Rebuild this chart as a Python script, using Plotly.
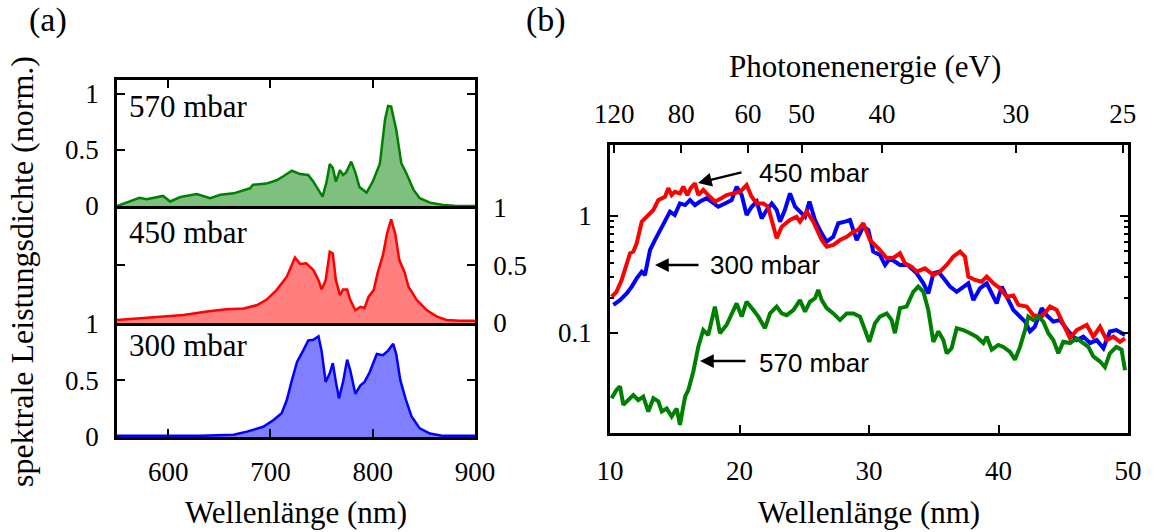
import plotly.graph_objects as go

# ---- (a) normalised spectral power density of the driving pulse ----
wl_570 = [550, 559, 572, 579, 595, 602, 612, 628, 641, 651, 664, 680, 683, 696, 706, 713, 721, 729, 737, 742,
          751, 755, 758, 761, 764, 768, 771, 774, 779, 783, 787, 794, 800, 807, 812, 815, 818, 823, 828, 833,
          840, 846, 856, 869, 880, 900]
psd_570 = [0, 0.03, 0.074, 0.06, 0.09, 0.04, 0.08, 0.107, 0.07, 0.10, 0.113, 0.158, 0.19, 0.20, 0.23, 0.268,
           0.315, 0.285, 0.277, 0.217, 0.083, 0.22, 0.375, 0.34, 0.217, 0.32, 0.277, 0.30, 0.396, 0.30, 0.17,
           0.12, 0.217, 0.378, 0.77, 0.893, 0.887, 0.68, 0.38, 0.29, 0.143, 0.07, 0.03, 0.01, 0.003, 0.0]

wl_450 = [550, 582, 615, 638, 657, 674, 687, 696, 706, 716, 721, 724, 729, 735, 742, 747, 750, 754, 758, 761,
          764, 768, 771, 775, 778, 783, 788, 792, 796, 801, 805, 810, 814, 818, 822, 826, 831, 835, 843, 853,
          863, 872, 885, 900]
psd_450 = [0.026, 0.05, 0.07, 0.10, 0.118, 0.125, 0.155, 0.20, 0.284, 0.40, 0.50, 0.566, 0.51, 0.515, 0.457,
           0.37, 0.29, 0.37, 0.615, 0.60, 0.37, 0.24, 0.29, 0.29, 0.20, 0.11, 0.14, 0.13, 0.227, 0.284, 0.44,
           0.586, 0.773, 0.894, 0.77, 0.543, 0.44, 0.313, 0.20, 0.11, 0.054, 0.026, 0.02, 0.02]

wl_300 = [550, 631, 664, 677, 693, 703, 711, 716, 721, 726, 732, 737, 742, 747, 750, 754, 758, 761, 764, 767,
          771, 775, 778, 783, 788, 792, 797, 804, 810, 815, 820, 823, 827, 832, 838, 846, 856, 869, 900]
psd_300 = [0.01, 0.01, 0.02, 0.047, 0.09, 0.15, 0.21, 0.325, 0.50, 0.66, 0.76, 0.85, 0.855, 0.886, 0.76, 0.485,
           0.56, 0.65, 0.485, 0.34, 0.485, 0.68, 0.59, 0.38, 0.455, 0.485, 0.57, 0.73, 0.72, 0.76, 0.82, 0.73,
           0.50, 0.34, 0.18, 0.076, 0.03, 0.01, 0.01]

# ---- (b) harmonic spectra on a log scale ----
lam_450 = [10.13, 10.5, 10.9, 11.3, 11.55, 11.8, 12.06, 12.45, 12.83, 13.35, 13.73, 14.25, 14.5, 14.76, 15.0,
           15.4, 15.66, 15.97, 16.23, 16.56, 16.82, 17.2, 17.59, 18.1, 18.6, 19.0, 19.5, 20.04, 20.55, 20.94,
           21.33, 21.84, 22.2, 22.5, 22.87, 23.26, 23.9, 24.4, 24.67, 25.19, 25.7, 26.35, 26.73, 27.24, 27.76,
           28.28, 28.8, 29.17, 29.56, 30.08, 30.85, 31.37, 31.9, 32.39, 32.78, 33.3, 33.68, 34.32, 34.97, 35.48,
           36.0, 36.5, 37.03, 37.41, 37.67, 38.19, 38.7, 39.09, 39.6, 40.12, 40.63, 41.15, 41.53, 42.18, 42.69,
           43.34, 43.98, 44.5, 45.0, 45.52, 46.04, 46.81, 47.32, 47.84, 48.35, 48.87, 49.38, 49.77]
sig_450 = [0.204, 0.225, 0.284, 0.394, 0.48, 0.496, 0.584, 0.894, 0.986, 1.125, 1.37, 1.46, 1.73, 1.51, 1.61,
           1.56, 1.78, 1.51, 1.73, 1.9, 1.51, 1.67, 1.51, 1.33, 1.42, 1.51, 1.56, 1.61, 1.84, 1.46,
           1.28, 1.28, 1.2, 0.924, 0.645, 0.81, 0.924, 0.986, 0.894, 1.09, 0.894, 0.623, 0.547, 0.565, 0.623,
           0.665, 0.735, 0.76, 0.866, 0.623, 0.512, 0.435, 0.44, 0.48, 0.394, 0.368, 0.334, 0.357, 0.313, 0.334,
           0.381, 0.449, 0.496, 0.449, 0.303, 0.284, 0.274, 0.303, 0.266, 0.241, 0.204, 0.209, 0.174, 0.168, 0.142,
           0.138, 0.168, 0.157, 0.121, 0.09, 0.106, 0.117, 0.093, 0.113, 0.087, 0.093, 0.084, 0.09]

lam_300 = [10.26, 10.77, 11.29, 11.68, 12.06, 12.45, 12.7, 13.09, 13.47, 13.86, 14.25, 14.63, 15.0, 15.4, 15.8,
           16.18, 16.56, 16.95, 17.47, 17.98, 18.36, 18.88, 19.4, 19.78, 20.17, 20.55, 20.94, 21.33, 21.71, 22.1,
           22.49, 22.87, 23.13, 23.5, 23.9, 24.29, 24.67, 25.06, 25.4, 25.83, 26.2, 26.73, 27.24, 27.63, 28.15,
           28.53, 29.05, 29.56, 29.95, 30.33, 30.85, 31.24, 31.62, 32.39, 33.0, 33.68, 34.2, 34.58, 34.97, 35.36,
           35.87, 36.26, 36.77, 37.28, 37.67, 38.06, 38.57, 39.09, 39.48, 39.86, 40.25, 40.63, 41.15, 41.66, 42.05,
           42.43, 42.8, 43.34, 43.72, 44.23, 44.75, 45.4, 46.04, 46.55, 47.07, 47.58, 48.1, 48.6, 49.1, 49.77]
sig_300 = [0.174, 0.191, 0.218, 0.249, 0.293, 0.334, 0.313, 0.512, 0.623, 0.76, 0.924, 1.09, 1.02, 1.28, 1.24,
           1.37, 1.24, 1.33, 1.42, 1.28, 1.2, 1.28, 1.37, 1.78, 1.51, 1.02, 1.2, 1.33, 0.955, 1.125,
           1.28, 1.125, 0.894, 1.125, 1.56, 1.2, 1.09, 0.986, 1.33, 0.924, 0.76, 0.603, 0.665, 0.866, 0.894,
           0.924, 0.623, 0.81, 0.76, 0.496, 0.464, 0.381, 0.435, 0.381, 0.381, 0.323, 0.266, 0.218, 0.323, 0.334,
           0.284, 0.249, 0.225, 0.249, 0.266, 0.191, 0.241, 0.266, 0.218, 0.179, 0.249, 0.204, 0.157, 0.138, 0.125,
           0.103, 0.113, 0.163, 0.142, 0.125, 0.129, 0.103, 0.087, 0.093, 0.082, 0.087, 0.074, 0.103, 0.106, 0.096]

lam_570 = [10.13, 10.5, 10.77, 11.03, 11.4, 11.8, 12.18, 12.57, 12.96, 13.35, 13.73, 14.0, 14.38, 14.76, 15.15,
           15.4, 15.8, 16.05, 16.43, 16.82, 17.2, 17.59, 18.1, 18.49, 19.0, 19.5, 19.78, 20.17, 20.55, 21.07,
           21.45, 21.97, 22.36, 22.87, 23.26, 23.64, 24.16, 24.67, 25.06, 25.44, 25.83, 26.08, 26.35, 26.73, 27.24,
           27.76, 28.28, 28.8, 29.3, 29.69, 30.02, 30.46, 30.85, 31.37, 31.75, 32.0, 32.39, 32.9, 33.42, 33.8,
           34.2, 34.58, 34.97, 35.36, 35.74, 36.0, 36.38, 36.77, 37.28, 37.8, 38.3, 38.83, 39.09, 39.48, 39.99,
           40.37, 40.89, 41.27, 41.66, 42.05, 42.3, 42.69, 43.08, 43.46, 43.85, 44.23, 44.62, 45.0, 45.52, 46.04,
           46.55, 46.94, 47.32, 47.84, 48.22, 48.6, 49.1, 49.5, 49.77]
sig_570 = [0.0277, 0.0326, 0.035, 0.0243, 0.0267, 0.0295, 0.0267, 0.0286, 0.0213, 0.0277, 0.026, 0.0213, 0.0226,
           0.0193, 0.0226, 0.0164, 0.0286, 0.0326, 0.0467, 0.0764, 0.106, 0.096, 0.168, 0.0996, 0.117, 0.157,
           0.179, 0.138, 0.185, 0.157, 0.138, 0.11, 0.147, 0.168, 0.147, 0.142, 0.157, 0.191, 0.152, 0.185,
           0.198, 0.233, 0.191, 0.163, 0.147, 0.129, 0.147, 0.147, 0.138, 0.106, 0.084, 0.121, 0.138, 0.147,
           0.129, 0.0996, 0.163, 0.168, 0.225, 0.249, 0.225, 0.157, 0.084, 0.103, 0.087, 0.067, 0.074, 0.11,
           0.106, 0.0996, 0.093, 0.082, 0.093, 0.072, 0.079, 0.076, 0.069, 0.059, 0.076, 0.106, 0.138, 0.129,
           0.138, 0.125, 0.0996, 0.087, 0.067, 0.084, 0.082, 0.09, 0.082, 0.076, 0.063, 0.057, 0.051, 0.067,
           0.076, 0.072, 0.048]

# photon-energy ticks of the upper axis
energy_ticks = [120, 80, 60, 50, 40, 30, 25]
HC_EV_NM = 1239.84

pressure_labels = ["570 mbar", "450 mbar", "300 mbar"]

W, H = 1156, 532
SERIF = "Liberation Serif"
SANS = "Liberation Sans"
GREEN, RED, BLUE = "#008000", "#ff0000", "#0000ff"


def px_x(p):
    return p / W


def px_y(p):
    return 1 - p / H


fig = go.Figure()

# left stacked panels
for spec_x, spec_y, col, fill, ax in [
    (wl_570, psd_570, GREEN, "rgba(0,128,0,0.5)", ("x", "y")),
    (wl_450, psd_450, RED, "rgba(255,0,0,0.5)", ("x2", "y2")),
    (wl_300, psd_300, BLUE, "rgba(0,0,255,0.5)", ("x3", "y3")),
]:
    fig.add_trace(go.Scatter(x=spec_x, y=spec_y, mode="lines", fill="tozeroy",
                             fillcolor=fill, line=dict(color=col, width=2.5),
                             xaxis=ax[0], yaxis=ax[1], showlegend=False, hoverinfo="skip"))

# right panel
for lam, sig, col in [(lam_300, sig_300, BLUE), (lam_450, sig_450, RED), (lam_570, sig_570, GREEN)]:
    fig.add_trace(go.Scatter(x=lam, y=sig, mode="lines", line=dict(color=col, width=4),
                             xaxis="x4", yaxis="y4", showlegend=False, hoverinfo="skip"))
# anchor trace for the photon-energy axis
fig.add_trace(go.Scatter(x=[HC_EV_NM / e for e in energy_ticks], y=[None] * len(energy_ticks),
                         mode="lines", xaxis="x5", yaxis="y4", showlegend=False, hoverinfo="skip"))

frame = dict(showline=True, linecolor="black", linewidth=2.5, showgrid=False, zeroline=False,
             tickcolor="black", tickwidth=2, ticklen=8, automargin=False)
tickfont = dict(family=SERIF, size=27, color="black")

xl = [px_x(117), px_x(475)]
dom_top = [px_y(206), px_y(80)]
dom_mid = [px_y(323), px_y(206)]
dom_bot = [px_y(437), px_y(323)]
xr = [px_x(610), px_x(1128)]
yr = [px_y(433), px_y(145)]

fig.update_layout(
    template="none",
    width=W, height=H, margin=dict(l=0, r=0, t=0, b=0, pad=0), autosize=False,
    paper_bgcolor="white", plot_bgcolor="white", showlegend=False,
    xaxis=dict(**frame, domain=xl, anchor="y", range=[550, 900], side="top", mirror=True,
               ticks="inside", tickvals=[600, 700, 800], showticklabels=False),
    yaxis=dict(**frame, domain=dom_top, anchor="x", range=[0, 1.125], side="left", mirror="ticks",
               ticks="inside", tickvals=[0, 0.5, 1], ticktext=["0", "0.5", "1"], tickfont=tickfont,
               ticklabelstandoff=10),
    xaxis2=dict(**frame, domain=xl, anchor="y2", range=[550, 900], side="bottom", mirror=False,
                ticks="", showticklabels=False),
    yaxis2=dict(**frame, domain=dom_mid, anchor="x2", range=[0, 1.01], side="right", mirror="ticks",
                ticks="inside", tickvals=[0, 0.5, 1], ticktext=["0", "0.5", "1"], tickfont=tickfont,
                ticklabelstandoff=10),
    xaxis3=dict(**frame, domain=xl, anchor="y3", range=[550, 900], side="bottom", mirror=False,
                ticks="inside", tickvals=[600, 700, 800, 900], tickfont=tickfont, ticklabelstandoff=9),
    yaxis3=dict(**frame, domain=dom_bot, anchor="x3", range=[0, 1.003], side="left", mirror="ticks",
                ticks="inside", tickvals=[0, 0.5, 1], ticktext=["0", "0.5", "1"], tickfont=tickfont,
                ticklabelstandoff=10),
    xaxis4=dict(**frame, domain=xr, anchor="y4", range=[10, 50], side="bottom", mirror=True,
                ticks="inside", tickvals=[10, 20, 30, 40, 50], tickfont=tickfont, ticklabelstandoff=12),
    yaxis4=dict(**frame, domain=yr, anchor="x4", type="log", range=[-1.855, 0.607], side="left",
                mirror="ticks", ticks="inside", tickvals=[0.1, 1], ticktext=["0.1", "1"],
                tickfont=tickfont, ticklabelstandoff=10,
                minor=dict(ticks="inside", ticklen=4, tickwidth=2, tickcolor="black",
                           tickvals=[0.2, 0.3, 0.4, 0.5, 0.6, 0.7, 0.8, 0.9], showgrid=False)),
    xaxis5=dict(overlaying="x4", anchor="y4", side="top", range=[10, 50], showline=False,
                showgrid=False, zeroline=False, ticks="inside", ticklen=8, tickwidth=2,
                tickcolor="black", tickvals=[HC_EV_NM / e for e in energy_ticks],
                ticktext=[str(e) for e in energy_ticks], tickfont=tickfont, ticklabelstandoff=16,
                automargin=False),
)

ann = []


def text(s, x, y, size=30, family=SERIF, xanchor="center", angle=0):
    ann.append(dict(text=s, x=px_x(x), y=px_y(y), xref="paper", yref="paper", showarrow=False,
                    xanchor=xanchor, yanchor="middle", textangle=angle,
                    font=dict(family=family, size=size, color="black")))


text("(a)", 48, 20, size=34)
text("(b)", 546, 20, size=34)
text("spektrale Leistungsdichte (norm.)", 22, 272, size=32, angle=-90)
text("Wellenlänge (nm)", 296, 512, size=31)
text("Wellenlänge (nm)", 869, 512, size=31)
text("Photonenenergie (eV)", 865, 66, size=31)

# pressure labels in the stacked panels
for lab, yc in zip(pressure_labels, [106, 232, 345]):
    text(lab, 127, yc, size=31, xanchor="left")

# labels with arrows in the harmonic panel
for lab, (tx, ty), (hx, hy), (tail_x, tail_y) in [
    ("450 mbar", (757, 173), (698, 183), (743, 172)),
    ("300 mbar", (708, 265), (655, 265), (700, 265)),
    ("570 mbar", (757, 363), (700, 361), (747, 361)),
]:
    text(lab, tx, ty, size=26, family=SANS, xanchor="left")
    ann.append(dict(text="", x=px_x(hx), y=px_y(hy), xref="paper", yref="paper",
                    ax=tail_x - hx, ay=tail_y - hy, axref="pixel", ayref="pixel",
                    showarrow=True, arrowhead=2, arrowsize=1.1, arrowwidth=2.5, arrowcolor="black"))

fig.update_layout(annotations=ann)
fig.write_html("out.html")
